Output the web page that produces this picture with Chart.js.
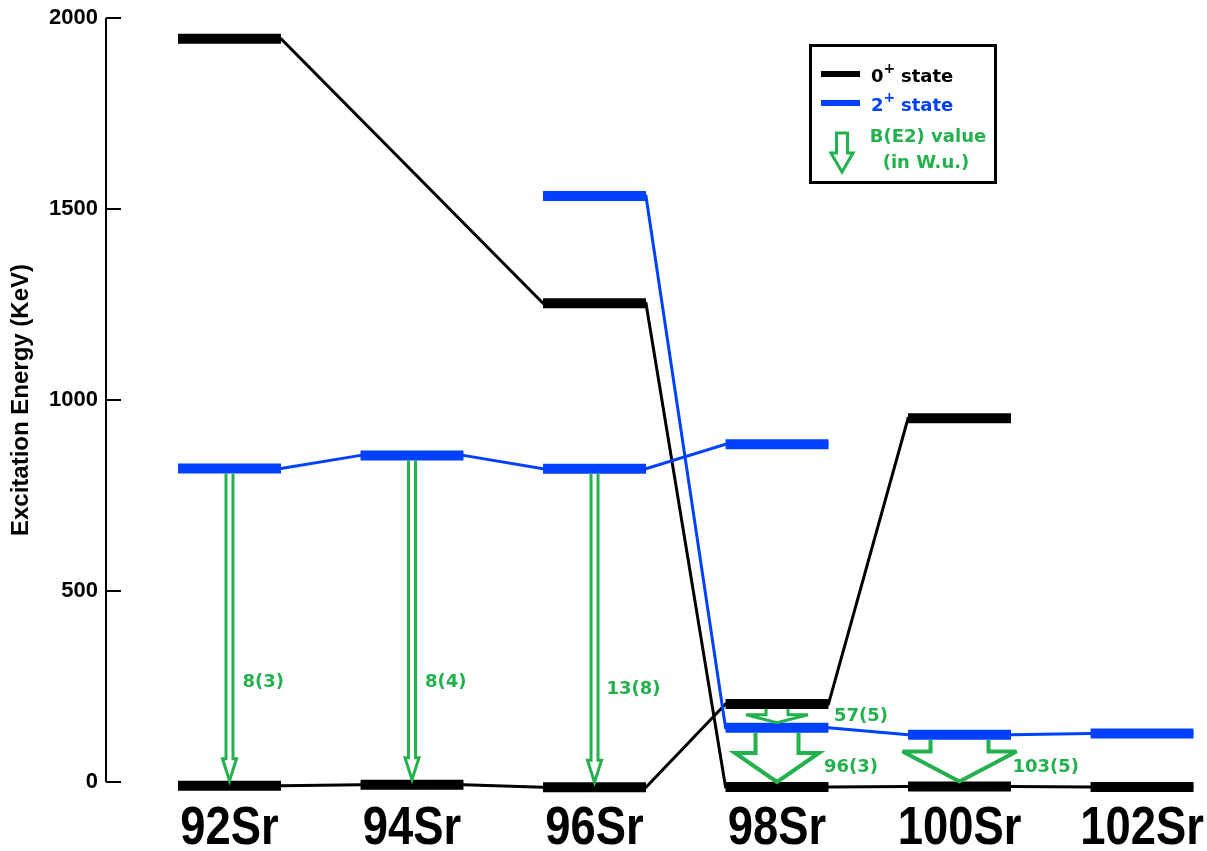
<!DOCTYPE html>
<html>
<head>
<meta charset="utf-8">
<title>Sr isotopes: 0+ and 2+ levels</title>
<script src="https://cdn.jsdelivr.net/npm/chart.js@4.4.1/dist/chart.umd.min.js"></script>
<style>
  html, body { margin: 0; padding: 0; background: #ffffff; }
  #wrap { width: 1207px; height: 851px; position: relative; }
</style>
</head>
<body>
<div id="wrap"><canvas id="levels"></canvas></div>
<script>
// ---- data -------------------------------------------------------------
const isotopes = ['92Sr', '94Sr', '96Sr', '98Sr', '100Sr', '102Sr'];

// 0+ levels (keV), two sequences followed along the isotope chain
const zeroPlusLow  = [-10, -7, -14, 204, 952, null];
const zeroPlusHigh = [1946, null, 1253, -13, -12, -13];

// 2+ levels (keV)
const twoPlusLow  = [821, 855, 820, 884, null, null];
const twoPlusHigh = [null, null, 1534, 142, 124, 127];

// B(E2) transitions: isotope index, initial level, final level, value in W.u.
const transIsotope = [0, 1, 2, 3, 3, 4];
const transFrom    = [821, 855, 820, 204, 142, 124];
const transTo      = [-10, -7, -14, 142, -13, -12];
const transLabel   = ['8(3)', '8(4)', '13(8)', '57(5)', '96(3)', '103(5)'];

const energyTicks = [0, 500, 1000, 1500, 2000];

// ---- styling ----------------------------------------------------------
const BLACK = '#000000';
const BLUE  = '#0040ff';
const GREEN = '#22b14c';
const HALF_BAR = 0.282;          // half width of a level bar, in isotope units
const BAR_WIDTH = 10;
const LINK_WIDTH = 3;

// arrow outline geometry per transition (px): stem half width, head half width, head length, stroke
const arrowShape = [
  { sw: 3.5, hw: 7,  hl: 22, lw: 3 },
  { sw: 3.5, hw: 7,  hl: 22, lw: 3 },
  { sw: 3.5, hw: 7,  hl: 22, lw: 3 },
  { sw: 11,  hw: 31, hl: 8,  lw: 3 },
  { sw: 21.5, hw: 42, hl: 29, lw: 4 },
  { sw: 29,  hw: 57, hl: 30, lw: 4 }
];
// label placement relative to the arrow tip (px)
const labelOffset = [
  { dx: 13, dy: -98 }, { dx: 13, dy: -97 }, { dx: 12, dy: -93 },
  { dx: 57, dy: -6 },  { dx: 47, dy: -15 }, { dx: 53, dy: -14 }
];

// ---- dataset builders -------------------------------------------------
function linkPoints(values) {
  const pts = [];
  values.forEach((v, i) => {
    if (v === null) return;
    pts.push({ x: i - HALF_BAR, y: v }, { x: i + HALF_BAR, y: v });
  });
  return pts;
}
function barPoints(values) {
  const pts = [];
  values.forEach((v, i) => {
    if (v === null) return;
    pts.push({ x: i - HALF_BAR, y: v }, { x: i + HALF_BAR, y: v }, { x: i + 0.5, y: null });
  });
  return pts;
}
function barSet(values, color) {
  return { data: barPoints(values), borderColor: color, borderWidth: BAR_WIDTH,
           borderCapStyle: 'butt', spanGaps: false, pointRadius: 0, clip: false, tension: 0 };
}
function linkSet(values, color) {
  return { data: linkPoints(values), borderColor: color, borderWidth: LINK_WIDTH,
           borderJoinStyle: 'miter', spanGaps: true, pointRadius: 0, clip: false, tension: 0 };
}

// ---- custom drawing ---------------------------------------------------
const axisPlugin = {
  id: 'energyAxis',
  afterDraw(chart) {
    const { ctx, chartArea } = chart;
    const y = chart.scales.y;
    const x = chart.scales.x;
    const x0 = chartArea.left;
    ctx.save();
    ctx.strokeStyle = BLACK;
    ctx.lineWidth = 2;
    ctx.beginPath();
    ctx.moveTo(x0, y.getPixelForValue(energyTicks[energyTicks.length - 1]));
    ctx.lineTo(x0, y.getPixelForValue(energyTicks[0]));
    energyTicks.forEach(t => {
      const py = y.getPixelForValue(t);
      ctx.moveTo(x0, py);
      ctx.lineTo(x0 + 15, py);
    });
    ctx.stroke();

    // isotope names under the levels, in a condensed bold face
    ctx.fillStyle = BLACK;
    ctx.font = 'bold 54px "Liberation Sans", Arial, sans-serif';
    ctx.textAlign = 'center';
    ctx.textBaseline = 'alphabetic';
    isotopes.forEach((name, i) => {
      const px = x.getPixelForValue(i);
      ctx.save();
      ctx.translate(px, 844);
      ctx.scale(0.84, 1);
      ctx.fillText(name, 0, 0);
      ctx.restore();
    });
    ctx.restore();
  }
};

function arrowPath(ctx, x, yTop, yTip, s) {
  const yHead = yTip - s.hl;
  ctx.beginPath();
  ctx.moveTo(x - s.sw, yTop);
  ctx.lineTo(x - s.sw, yHead);
  ctx.lineTo(x - s.hw, yHead);
  ctx.lineTo(x, yTip);
  ctx.lineTo(x + s.hw, yHead);
  ctx.lineTo(x + s.sw, yHead);
  ctx.lineTo(x + s.sw, yTop);
}

const transitionPlugin = {
  id: 'transitions',
  afterDatasetsDraw(chart) {
    const { ctx } = chart;
    const xs = chart.scales.x, ys = chart.scales.y;
    ctx.save();
    ctx.strokeStyle = GREEN;
    ctx.fillStyle = GREEN;
    ctx.lineJoin = 'miter';
    ctx.miterLimit = 4;
    transIsotope.forEach((iso, k) => {
      const s = arrowShape[k];
      const x = xs.getPixelForValue(iso);
      const yTop = ys.getPixelForValue(transFrom[k]) + BAR_WIDTH / 2;
      const yTip = ys.getPixelForValue(transTo[k]) - BAR_WIDTH / 2;
      ctx.lineWidth = s.lw;
      arrowPath(ctx, x, yTop, yTip, s);
      ctx.stroke();
      ctx.font = 'bold 18px "DejaVu Sans", Verdana, sans-serif';
      ctx.textAlign = 'left';
      ctx.textBaseline = 'middle';
      ctx.fillText(transLabel[k], x + labelOffset[k].dx, yTip + labelOffset[k].dy);
    });
    ctx.restore();
  }
};

const keyPlugin = {
  id: 'levelKey',
  afterDraw(chart) {
    const { ctx } = chart;
    ctx.save();
    // frame
    ctx.strokeStyle = BLACK;
    ctx.lineWidth = 3;
    ctx.strokeRect(810.5, 45.5, 185, 137);

    const font = 'bold 18px "DejaVu Sans", Verdana, sans-serif';
    const supFont = 'bold 14px "DejaVu Sans", Verdana, sans-serif';
    ctx.textBaseline = 'alphabetic';
    ctx.textAlign = 'left';

    const rows = [
      { color: BLACK, y: 74, base: 82, digit: '0' },
      { color: BLUE,  y: 103, base: 111, digit: '2' }
    ];
    rows.forEach(r => {
      ctx.fillStyle = r.color;
      ctx.fillRect(821, r.y - 3, 39, 6);
      ctx.font = font;
      ctx.fillText(r.digit, 871, r.base);
      const w = ctx.measureText(r.digit).width;
      ctx.font = supFont;
      ctx.fillText('+', 871 + w, r.base - 9);
      ctx.font = font;
      ctx.fillText('state', 901, r.base);
    });

    // B(E2) symbol
    ctx.strokeStyle = GREEN;
    ctx.lineWidth = 3;
    ctx.lineJoin = 'miter';
    arrowPath(ctx, 842, 133, 172, { sw: 5.5, hw: 11, hl: 19 });
    ctx.closePath();
    ctx.stroke();

    ctx.fillStyle = GREEN;
    ctx.font = font;
    ctx.textAlign = 'center';
    ctx.fillText('B(E2) value', 928, 142);
    ctx.fillText('(in W.u.)', 926, 168);
    ctx.restore();
  }
};

// ---- chart ------------------------------------------------------------
const datasets = [
  barSet(twoPlusLow, BLUE),
  barSet(twoPlusHigh, BLUE),
  barSet(zeroPlusLow, BLACK),
  barSet(zeroPlusHigh, BLACK),
  linkSet(twoPlusLow, BLUE),
  linkSet(twoPlusHigh, BLUE),
  linkSet(zeroPlusLow, BLACK),
  linkSet(zeroPlusHigh, BLACK)
];

new Chart(document.getElementById('levels'), {
  type: 'line',
  data: { datasets },
  options: {
    responsive: true,
    maintainAspectRatio: false,
    animation: false,
    layout: { padding: { top: 18, right: 0, bottom: 0, left: 0 } },
    plugins: { legend: { display: false }, tooltip: { enabled: false } },
    elements: { line: { tension: 0 }, point: { radius: 0 } },
    scales: {
      x: {
        type: 'linear',
        min: -0.6767,
        max: 5.356,
        afterBuildTicks: s => { s.ticks = isotopes.map((_, i) => ({ value: i })); },
        afterFit: s => { s.height = 69; s.paddingLeft = 0; s.paddingRight = 0; },
        grid: { display: false, drawTicks: false },
        border: { display: false },
        ticks: { display: false }
      },
      y: {
        min: 0,
        max: 2000,
        afterBuildTicks: s => { s.ticks = energyTicks.map(v => ({ value: v })); },
        afterFit: s => { s.width = 106; s.paddingTop = 0; s.paddingBottom = 0; },
        grid: { display: false, drawTicks: false },
        border: { display: false },
        ticks: {
          padding: 8,
          color: BLACK,
          font: { family: '"Liberation Sans", Arial, sans-serif', weight: 'bold', size: 22 },
          callback: v => String(v)
        },
        title: {
          display: true,
          text: 'Excitation Energy (KeV)',
          color: BLACK,
          padding: { top: 7, bottom: 0 },
          font: { family: '"Liberation Sans", Arial, sans-serif', weight: 'bold', size: 24 }
        }
      }
    }
  },
  plugins: [axisPlugin, transitionPlugin, keyPlugin]
});
</script>
</body>
</html>
